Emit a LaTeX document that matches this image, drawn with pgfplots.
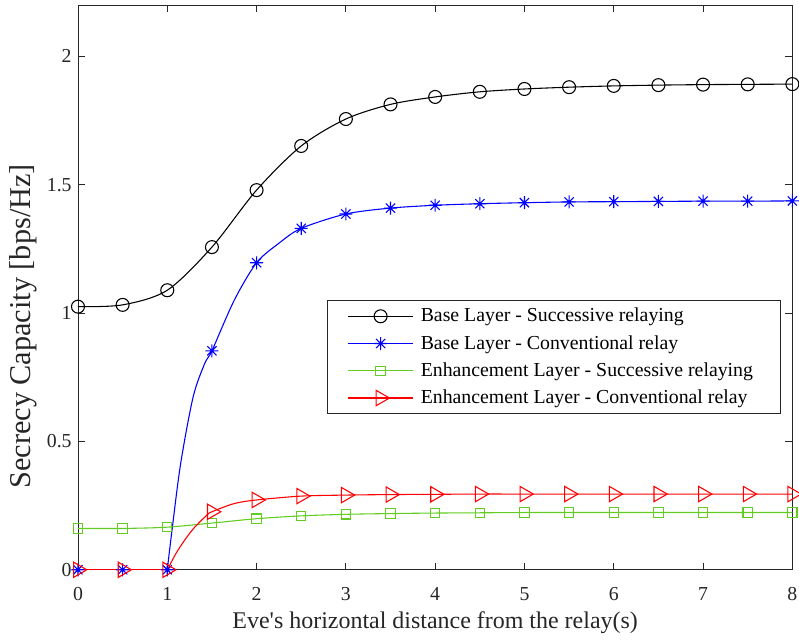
\documentclass[border=0pt]{standalone}
\usepackage{fontspec}
\setmainfont{Liberation Serif}[Ligatures=TeXOff]
\usepackage{pgfplots}
\pgfplotsset{compat=1.18}
\definecolor{mgreen}{HTML}{62CC22}
\definecolor{axgray}{gray}{0.15}
% MATLAB style eight-arm asterisk
\pgfdeclareplotmark{mstar}{%
  \pgfpathmoveto{\pgfqpoint{-\pgfplotmarksize}{0pt}}\pgfpathlineto{\pgfqpoint{\pgfplotmarksize}{0pt}}%
  \pgfpathmoveto{\pgfqpoint{0pt}{-\pgfplotmarksize}}\pgfpathlineto{\pgfqpoint{0pt}{\pgfplotmarksize}}%
  \pgfpathmoveto{\pgfqpoint{-.707\pgfplotmarksize}{-.707\pgfplotmarksize}}\pgfpathlineto{\pgfqpoint{.707\pgfplotmarksize}{.707\pgfplotmarksize}}%
  \pgfpathmoveto{\pgfqpoint{-.707\pgfplotmarksize}{.707\pgfplotmarksize}}\pgfpathlineto{\pgfqpoint{.707\pgfplotmarksize}{-.707\pgfplotmarksize}}%
  \pgfusepathqstroke}
\pgfplotsset{
  sblack/.style={black, line width=0.6pt, mark=o, mark size=3.6pt},
  sblue/.style={blue, line width=0.6pt, mark=mstar, mark size=3.6pt},
  sgreen/.style={mgreen, line width=0.6pt, mark=square, mark size=2.6pt},
  sred/.style={red, line width=0.6pt, mark=triangle, mark size=4.9pt, mark options={rotate=-90}},
}
\newcommand{\pad}{\rule{11.5pt}{0pt}}
\begin{document}
\begin{tikzpicture}
\begin{axis}[
  scale only axis, width=396.7pt, height=313.6pt,
  xmin=0, xmax=8, ymin=0, ymax=2.2,
  xtick={0,1,...,8}, ytick={0,0.5,1,1.5,2},
  tick align=inside, major tick length=4pt,
  axis line style={axgray, line width=0.5pt},
  tick style={axgray, line width=0.5pt},
  /pgf/number format/assume math mode=true,
  tick label style={font=\fontsize{11}{13}\selectfont, text=axgray},
  xticklabel style={anchor=base, yshift=-16.9pt},
  xlabel={Eve's horizontal distance from the relay(s)},
  ylabel={Secrecy Capacity [bps/Hz]},
  xlabel style={font=\fontsize{13.3}{15}\selectfont, text=axgray,
    at={(rel axis cs:0.5,0)}, anchor=base, yshift=-32.7pt},
  ylabel style={font=\fontsize{16.8}{19}\selectfont, text=axgray,
    at={([xshift=-30.6pt]rel axis cs:0,0.431)}, anchor=center},
  legend style={at={(rel axis cs:0.9846,0.477)}, anchor=north east,
    font=\fontsize{11}{13}\selectfont, draw=axgray, line width=0.5pt,
    inner xsep=4pt, inner ysep=1pt,
    nodes={inner xsep=0pt, inner ysep=3pt}},
  legend cell align=left,
  legend image code/.code={\path (0pt,0pt) (47pt,0pt);
    \draw[mark repeat=2,mark phase=2,#1] plot coordinates {(7pt,0pt) (25pt,0pt) (43pt,0pt)};},
]
\coordinate (ll) at (rel axis cs:0,0);
\coordinate (ur) at (rel axis cs:1,1);
\addlegendimage{sblack}
\addlegendimage{sblue}
\addlegendimage{sgreen}
\addlegendimage{sred}
\legend{Base Layer - Successive relaying\pad, Base Layer - Conventional relay\pad,
  Enhancement Layer - Successive relaying\pad, Enhancement Layer - Conventional relay\pad}

% base layer, successive relaying
\addplot[sblack, smooth, no markers, forget plot] coordinates {
(0,1.025) (0.5,1.032) (1,1.089) (1.5,1.257) (2,1.479) (2.5,1.651) (3,1.756)
(3.5,1.813) (4,1.842) (4.5,1.862) (5,1.873) (5.5,1.880) (6,1.885) (6.5,1.888)
(7,1.890) (7.5,1.891) (8,1.892)};
\addplot[sblack, only marks, forget plot] coordinates {
(0,1.025) (0.5,1.032) (1,1.089) (1.5,1.257) (2,1.479) (2.5,1.651) (3,1.756)
(3.5,1.813) (4,1.842) (4.5,1.862) (5,1.873) (5.5,1.880) (6,1.885) (6.5,1.888)
(7,1.890) (7.5,1.891) (8,1.892)};

% base layer, conventional relay
\addplot[sblue, sharp plot, no markers, forget plot] coordinates {(0,0) (0.5,0) (1,0)};
\addplot[sblue, smooth, no markers, forget plot] coordinates {
(1,0) (1.053,0.154) (1.15,0.414) (1.29,0.674) (1.42,0.804) (1.5,0.853) (1.75,1.05)
(2,1.196) (2.25,1.272) (2.5,1.330) (3,1.386) (3.5,1.409) (4,1.420) (4.5,1.426)
(5,1.430) (5.5,1.433) (6,1.434) (6.5,1.435) (7,1.436) (7.5,1.436) (8,1.437)};
\addplot[sblue, only marks, forget plot] coordinates {
(0,0) (0.5,0) (1,0) (1.5,0.853) (2,1.196) (2.5,1.330) (3,1.386) (3.5,1.409)
(4,1.420) (4.5,1.426) (5,1.430) (5.5,1.433) (6,1.434) (6.5,1.435) (7,1.436)
(7.5,1.436) (8,1.437)};

% enhancement layer, successive relaying
\addplot[sgreen, smooth, no markers, forget plot] coordinates {
(0,0.161) (0.5,0.161) (1,0.166) (1.5,0.182) (2,0.199) (2.5,0.210) (3,0.216)
(3.5,0.219) (4,0.221) (4.5,0.222) (5,0.223) (5.5,0.223) (6,0.223) (6.5,0.223)
(7,0.223) (7.5,0.223) (8,0.223)};
\addplot[sgreen, only marks, forget plot] coordinates {
(0,0.161) (0.5,0.161) (1,0.166) (1.5,0.182) (2,0.199) (2.5,0.210) (3,0.216)
(3.5,0.219) (4,0.221) (4.5,0.222) (5,0.223) (5.5,0.223) (6,0.223) (6.5,0.223)
(7,0.223) (7.5,0.223) (8,0.223)};

% enhancement layer, conventional relay
\addplot[sred, sharp plot, no markers, forget plot] coordinates {(0,0) (0.5,0) (1,0)};
\addplot[sred, smooth, no markers, forget plot] coordinates {
(1,0) (1.1,0.065) (1.2,0.118) (1.3,0.163) (1.44,0.212) (1.5,0.226) (1.75,0.258)
(2,0.272) (2.5,0.287) (3,0.291) (3.5,0.293) (4,0.294) (4.5,0.295) (5,0.295)
(5.5,0.295) (6,0.295) (6.5,0.295) (7,0.295) (7.5,0.295) (8,0.295)};
\addplot[sred, only marks, forget plot] coordinates {
(0,0) (0.5,0) (1,0) (1.5,0.226) (2,0.272) (2.5,0.287) (3,0.291) (3.5,0.293)
(4,0.294) (4.5,0.295) (5,0.295) (5.5,0.295) (6,0.295) (6.5,0.295) (7,0.295)
(7.5,0.295) (8,0.295)};
\end{axis}
\pgfresetboundingbox
\path ([xshift=-43.3pt,yshift=-39.7pt]ll) rectangle ([xshift=3.7pt,yshift=2.8pt]ur);
\end{tikzpicture}
\end{document}
